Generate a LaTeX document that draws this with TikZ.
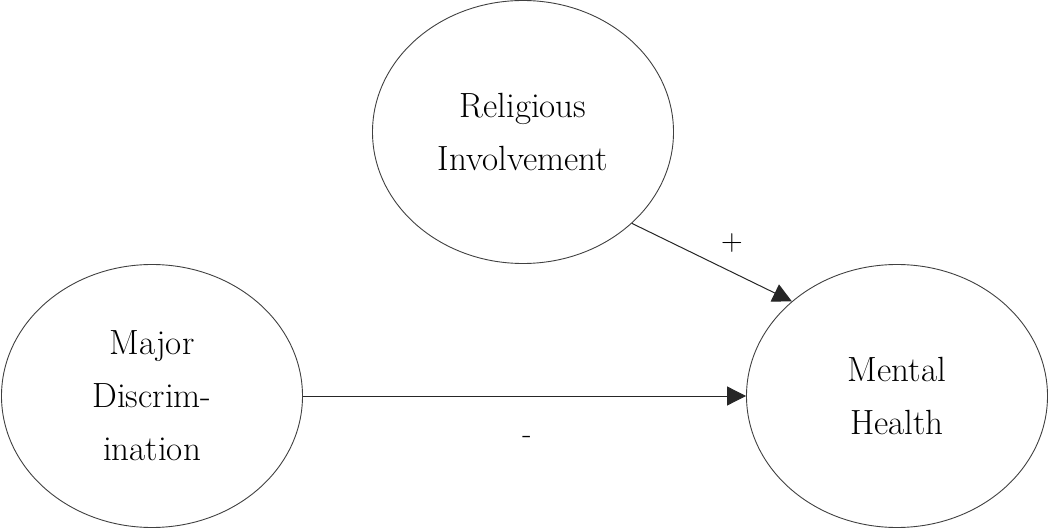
\documentclass[tikz,border=0pt]{standalone}
\usetikzlibrary{shapes.geometric,arrows.meta}
\begin{document}
\begin{tikzpicture}[x=1pt,y=-1pt,
  latent/.style={draw=black!75,line width=0.9pt,ellipse,inner sep=0pt,align=center,
    minimum width=301pt,minimum height=263pt,
    font=\fontsize{35}{53}\selectfont},
  arr/.style={draw=black!85,line width=1pt,-{Triangle[length=19pt,width=19pt]}},
  sign/.style={font=\fontsize{30}{32}\selectfont,inner sep=0pt}]
\useasboundingbox (0,0) rectangle (1050,529);
\node[latent] (rel) at (523,132) {Religious\\Involvement};
\node[latent] (maj) at (152,396) {Major\\Discrim-\\ination};
\node[latent] (men) at (897,396) {Mental\\Health};
\draw[arr] (maj) -- (men);
\draw[arr] (rel.-40.8) -- (men.138.7);
\node[sign] (plus) at (732,243) {+};
\node[sign] (minus) at (527,440) {-};
\end{tikzpicture}
\end{document}
